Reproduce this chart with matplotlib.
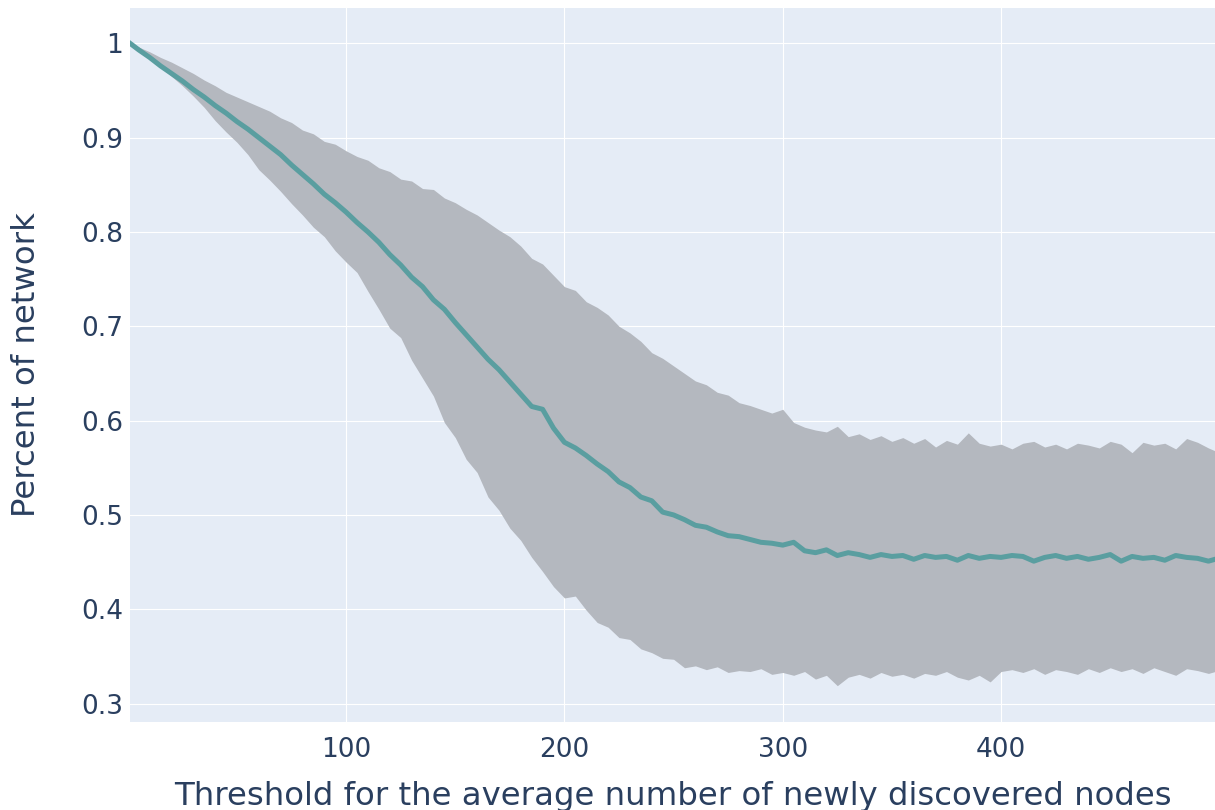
import numpy as np
import matplotlib
matplotlib.use('Agg')
import matplotlib.pyplot as plt
from matplotlib.ticker import FuncFormatter

# threshold values (sampled along the x axis)
threshold = [1, 5, 10, 15, 20, 25, 30, 35, 40, 45, 50, 55, 60, 65, 70, 75, 80, 85, 90, 95,
             100, 105, 110, 115, 120, 125, 130, 135, 140, 145, 150, 155, 160, 165, 170, 175, 180, 185, 190, 195,
             200, 205, 210, 215, 220, 225, 230, 235, 240, 245, 250, 255, 260, 265, 270, 275, 280, 285, 290, 295,
             300, 305, 310, 315, 320, 325, 330, 335, 340, 345, 350, 355, 360, 365, 370, 375, 380, 385, 390, 395,
             400, 405, 410, 415, 420, 425, 430, 435, 440, 445, 450, 455, 460, 465, 470, 475, 480, 485, 490, 495,
             498]

mean_pct = [1.000, 0.993, 0.985, 0.976, 0.968, 0.960, 0.951, 0.943, 0.934, 0.926,
            0.917, 0.909, 0.900, 0.891, 0.882, 0.871, 0.861, 0.851, 0.840, 0.831,
            0.821, 0.810, 0.800, 0.789, 0.776, 0.765, 0.752, 0.742, 0.728, 0.718,
            0.704, 0.691, 0.678, 0.665, 0.654, 0.641, 0.628, 0.615, 0.612, 0.592,
            0.577, 0.571, 0.563, 0.554, 0.546, 0.535, 0.529, 0.519, 0.515, 0.503,
            0.500, 0.495, 0.489, 0.487, 0.482, 0.478, 0.477, 0.474, 0.471, 0.470,
            0.468, 0.471, 0.462, 0.460, 0.463, 0.457, 0.460, 0.458, 0.455, 0.458,
            0.456, 0.457, 0.453, 0.457, 0.455, 0.456, 0.452, 0.457, 0.454, 0.456,
            0.455, 0.457, 0.456, 0.451, 0.455, 0.457, 0.454, 0.456, 0.453, 0.455,
            0.458, 0.451, 0.456, 0.454, 0.455, 0.452, 0.457, 0.455, 0.454, 0.451,
            0.453]

upper_pct = [1.000, 0.996, 0.991, 0.985, 0.980, 0.974, 0.968, 0.961, 0.955, 0.948,
             0.943, 0.938, 0.933, 0.928, 0.921, 0.916, 0.908, 0.904, 0.896, 0.893,
             0.886, 0.880, 0.876, 0.868, 0.864, 0.856, 0.854, 0.846, 0.845, 0.836,
             0.831, 0.824, 0.818, 0.810, 0.802, 0.795, 0.785, 0.772, 0.766, 0.754,
             0.742, 0.738, 0.726, 0.720, 0.712, 0.700, 0.693, 0.684, 0.672, 0.666,
             0.658, 0.650, 0.642, 0.638, 0.630, 0.627, 0.619, 0.616, 0.612, 0.608,
             0.612, 0.598, 0.593, 0.590, 0.588, 0.594, 0.583, 0.586, 0.580, 0.584,
             0.578, 0.582, 0.576, 0.581, 0.572, 0.579, 0.575, 0.587, 0.576, 0.573,
             0.575, 0.570, 0.576, 0.578, 0.572, 0.575, 0.570, 0.576, 0.574, 0.571,
             0.578, 0.575, 0.566, 0.577, 0.574, 0.576, 0.570, 0.581, 0.577, 0.571,
             0.568]

lower_pct = [1.000, 0.993, 0.984, 0.975, 0.965, 0.955, 0.944, 0.932, 0.918, 0.906,
             0.895, 0.882, 0.866, 0.855, 0.843, 0.830, 0.818, 0.805, 0.795, 0.780,
             0.768, 0.757, 0.737, 0.718, 0.698, 0.688, 0.664, 0.645, 0.626, 0.598,
             0.582, 0.559, 0.545, 0.519, 0.505, 0.486, 0.473, 0.455, 0.440, 0.424,
             0.412, 0.414, 0.399, 0.386, 0.381, 0.370, 0.368, 0.358, 0.354, 0.348,
             0.347, 0.338, 0.340, 0.336, 0.339, 0.333, 0.335, 0.334, 0.337, 0.331,
             0.333, 0.330, 0.334, 0.326, 0.330, 0.319, 0.328, 0.331, 0.327, 0.333,
             0.329, 0.331, 0.327, 0.332, 0.330, 0.334, 0.328, 0.325, 0.330, 0.323,
             0.334, 0.336, 0.333, 0.337, 0.331, 0.336, 0.334, 0.331, 0.337, 0.333,
             0.338, 0.334, 0.337, 0.332, 0.338, 0.334, 0.330, 0.337, 0.335, 0.332,
             0.334]

x_ticks = [100, 200, 300, 400]
y_ticks = [0.3, 0.4, 0.5, 0.6, 0.7, 0.8, 0.9, 1.0]

text_color = '#2a3f5f'
plt.rcParams['font.family'] = ['DejaVu Sans']

fig = plt.figure(figsize=(12.15, 8.1), dpi=100)
ax = fig.add_axes([130 / 1215, 1 - 722 / 810, 1 - 130 / 1215, (722 - 8) / 810])
ax.set_facecolor('#e5ecf6')

ax.fill_between(threshold, lower_pct, upper_pct, color='#b4b8bf', linewidth=0, zorder=2)
ax.plot(threshold, mean_pct, color='#5a9ea0', linewidth=3.6, zorder=3)

ax.set_xlim(1, 498)
ax.set_ylim(0.2805, 1.0374)
ax.set_xticks(x_ticks)
ax.set_yticks(y_ticks)
ax.yaxis.set_major_formatter(FuncFormatter(lambda v, p: ('%g' % round(v, 2))))
ax.grid(True, color='white', linewidth=0.8, zorder=1)
ax.set_axisbelow(True)
for s in ax.spines.values():
    s.set_visible(False)
ax.tick_params(length=0, labelsize=19, labelcolor=text_color)
ax.tick_params(axis='x', pad=11)
ax.tick_params(axis='y', pad=5)

ax.set_xlabel('Threshold for the average number of newly discovered nodes',
              fontsize=23.3, color=text_color, labelpad=13)
ax.set_ylabel('Percent of network', fontsize=23.3, color=text_color, labelpad=28)

plt.savefig('out.png', dpi=100)
